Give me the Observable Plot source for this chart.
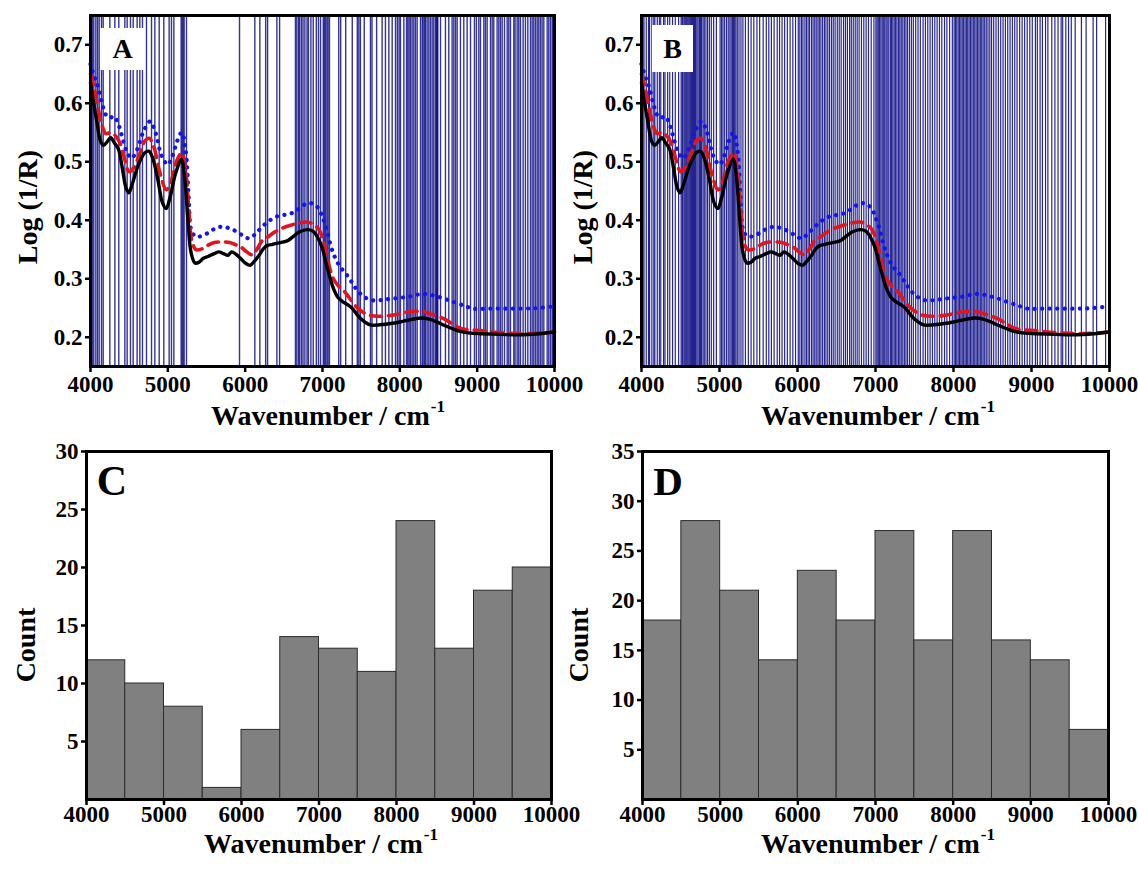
<!DOCTYPE html>
<html><head><meta charset="utf-8">
<script src="https://cdn.jsdelivr.net/npm/d3@7"></script>
<script src="https://cdn.jsdelivr.net/npm/@observablehq/plot@0.6"></script>
<style>
body{margin:0;background:#fff;}
#fig{position:relative;width:1138px;height:870px;overflow:hidden;font-family:"Liberation Serif",serif;font-weight:bold;color:#000;background:#fff;}
#fig svg text{font-family:"Liberation Serif",serif !important;font-weight:bold !important;font-size:23px !important;}
.t{position:absolute;white-space:nowrap;font-size:28px;line-height:0.85;}
.t .sup{font-size:17px;position:relative;top:-13px;margin-left:1px;}
.yl{transform:translate(-50%,-50%) rotate(-90deg);}
.xl{transform:translate(-50%,0);}
.lab{position:absolute;display:flex;align-items:center;justify-content:center;background:#fff;line-height:1;}
.big{position:absolute;line-height:1;transform:translate(-50%,-50%);}
</style>
</head><body><div id="fig"></div>
<script>
// ---------- data ----------
const xTicks = [4000, 5000, 6000, 7000, 8000, 9000, 10000];
const yTicksSpec = [0.2, 0.3, 0.4, 0.5, 0.6, 0.7];
const yTicksC = [5, 10, 15, 20, 25, 30];
const yTicksD = [5, 10, 15, 20, 25, 30, 35];

const blackWn = [4000,4040,4080,4130,4170,4220,4260,4310,4360,4410,4460,4495,4540,4620,4700,4754,4800,4870,4930,4978,5030,5100,5177,5220,5260,5300,5350,5400,5460,5520,5600,5660,5720,5778,5826,5880,5946,6010,6065,6120,6185,6240,6290,6360,6424,6500,6560,6620,6700,6806,6880,6940,6998,7040,7080,7142,7200,7260,7320,7381,7440,7500,7560,7620,7720,7860,8000,8100,8267,8380,8481,8580,8673,8780,8911,9055,9300,9534,9800,10000];
const blackLog = [0.635,0.600,0.570,0.535,0.528,0.535,0.541,0.532,0.522,0.490,0.455,0.447,0.462,0.495,0.515,0.518,0.508,0.470,0.430,0.420,0.440,0.480,0.504,0.470,0.400,0.345,0.327,0.328,0.335,0.338,0.343,0.346,0.343,0.340,0.346,0.342,0.334,0.326,0.323,0.330,0.341,0.352,0.357,0.359,0.361,0.363,0.366,0.372,0.380,0.384,0.381,0.370,0.352,0.330,0.310,0.283,0.268,0.261,0.256,0.250,0.240,0.231,0.225,0.221,0.221,0.223,0.226,0.229,0.233,0.231,0.226,0.220,0.215,0.210,0.207,0.206,0.205,0.204,0.206,0.209];

const redWn = [4000,4050,4100,4150,4200,4260,4320,4380,4440,4500,4560,4640,4700,4760,4820,4900,4980,5040,5110,5180,5230,5270,5310,5360,5420,5500,5600,5700,5800,5880,5946,6020,6090,6150,6220,6280,6360,6470,6600,6720,6806,6880,6950,7000,7040,7090,7140,7210,7285,7360,7430,7520,7620,7750,7860,8000,8100,8290,8420,8580,8700,8815,9000,9200,9400,9600,9800,10000];
const redLog = [0.650,0.625,0.590,0.562,0.548,0.550,0.545,0.532,0.505,0.483,0.490,0.515,0.535,0.540,0.525,0.480,0.452,0.465,0.500,0.515,0.485,0.420,0.365,0.350,0.350,0.356,0.362,0.363,0.362,0.358,0.354,0.346,0.341,0.350,0.365,0.370,0.378,0.386,0.392,0.396,0.397,0.393,0.385,0.370,0.350,0.320,0.300,0.287,0.278,0.265,0.253,0.243,0.237,0.236,0.237,0.240,0.243,0.244,0.239,0.231,0.221,0.214,0.212,0.209,0.207,0.206,0.207,0.209];

const blueWn = [4000,4050,4100,4150,4200,4250,4300,4350,4400,4460,4530,4600,4680,4770,4840,4920,5000,5060,5120,5180,5230,5270,5300,5350,5400,5500,5600,5700,5800,5900,5980,6050,6120,6200,6300,6400,6500,6600,6700,6800,6880,6950,7000,7050,7100,7150,7220,7300,7380,7450,7550,7650,7780,7900,8100,8300,8500,8700,8850,8950,9200,9600,9800,10000];
const blueLog = [0.667,0.645,0.627,0.600,0.580,0.575,0.578,0.568,0.547,0.520,0.506,0.520,0.550,0.569,0.550,0.510,0.495,0.510,0.535,0.550,0.520,0.440,0.385,0.373,0.372,0.377,0.385,0.389,0.386,0.380,0.373,0.369,0.375,0.386,0.398,0.406,0.409,0.412,0.420,0.429,0.428,0.420,0.405,0.386,0.360,0.340,0.322,0.309,0.294,0.280,0.268,0.263,0.264,0.266,0.269,0.274,0.269,0.260,0.253,0.249,0.249,0.249,0.250,0.253];

// selected wavenumbers (vertical lines)
const selectedA = [4026,4043,4069,4091,4112,4142,4164,4250,4315,4366,4444,4474,
  4517,4552,4603,4638,4672,4724,4789,4832,4888,4948,
  5017,5047,5078,5172,5185,5198,5211,5241,
  5927,
  6125,6190,6265,6290,6410,6445,
  6650,6668,6690,6705,6728,6748,6772,6800,6818,6850,6880,6920,6948,6975,
  7010,7025,7040,7058,7072,7090,7210,7235,7300,7385,7450,7470,7490,
  7540,7620,7640,7700,7771,7814,7858,7901,7944,7968,7990,
  8008,8052,8086,8103,8120,8138,8159,8181,8202,8224,8267,8289,8301,8319,8332,8353,8375,8396,8418,8439,8461,8474,8483,8491,
  8526,8590,8633,8676,8698,8720,8741,8784,8827,8870,8914,8965,8990,
  9021,9043,9086,9107,9129,9172,9194,9215,9258,9280,9301,9323,9353,9388,9409,9431,9474,9490,
  9517,9538,9560,9594,9624,9655,9689,9711,9732,9754,9776,9797,9819,9840,9862,9905,9926,9948,9970,9982];
const selectedB = [4018,4032,4061,4090,4104,4133,4158,4171,4202,4229,4247,4283,4301,4335,4362,4398,4433,4476,
  4508,4522,4531,4547,4560,4573,4585,4598,4612,4626,4640,4655,4668,4681,4694,4710,4725,4742,4756,4770,4789,4805,4826,4847,4870,4895,4925,4960,
  5008,5027,5045,5066,5090,5112,5133,5150,5168,5181,5195,5210,5228,5250,5275,5300,5332,5370,5405,5440,5480,
  5515,5560,5600,5632,5665,5700,5740,5770,5802,5835,5870,5905,5940,5975,
  6010,6030,6052,6070,6095,6115,6136,6155,6180,6200,6221,6240,6262,6280,6300,6322,6345,6365,6388,6410,6435,6458,6482,
  6510,6535,6560,6590,6615,6640,6668,6690,6715,6740,6765,6790,6820,6850,6880,6910,6945,6980,
  7005,7020,7035,7050,7068,7085,7100,7118,7135,7150,7170,7190,7205,7222,7240,7258,7275,7295,7312,7330,7350,7370,7390,7410,7435,7460,7485,
  7515,7545,7575,7610,7640,7670,7700,7730,7760,7790,7820,7850,7885,7915,7950,7985,
  8008,8025,8042,8060,8078,8095,8112,8130,8148,8165,8182,8200,8218,8236,8254,8272,8290,8308,8326,8344,8362,8380,8400,8420,8442,8465,8488,
  8515,8545,8575,8605,8635,8665,8695,8725,8755,8785,8815,8848,8880,8912,8945,8978,
  9010,9050,9075,9110,9140,9180,9210,9260,9300,9340,9380,9400,9440,9475,
  9510,9560,9640,9700,9790,9835,9950];

const binStarts = [4000,4500,5000,5500,6000,6500,7000,7500,8000,8500,9000,9500];
const binWidth = 500;
const countsC = [12,10,8,1,6,14,13,11,24,13,18,20];
const countsD = [18,28,21,14,23,18,27,16,27,16,14,7];

// ---------- helpers ----------
const fig = document.getElementById("fig");
const svgStyle = {fontFamily: "Liberation Serif, serif", fontSize: "23px", fontWeight: "bold", background: "transparent", overflow: "visible", color: "#000"};
const fmtX = d3.format("d");
const pts = (xs, ys) => xs.map((x, i) => ({x, y: ys[i]}));

function place(node, left, top) {
  node.style.position = "absolute";
  node.style.left = left + "px";
  node.style.top = top + "px";
  fig.appendChild(node);
}

const textOpts = {fontFamily: "Liberation Serif", fontWeight: "bold", fontSize: 23};

function spectrumPanel(sel, ml, mr, lw, op) {
  return Plot.plot({
    width: 580, height: 440,
    marginLeft: ml, marginRight: mr, marginTop: 15, marginBottom: 74,
    style: svgStyle,
    x: {domain: [4000, 10000]},
    y: {domain: [0.15, 0.75]},
    marks: [
      Plot.ruleX(sel, {stroke: "#000080", strokeOpacity: op, strokeWidth: lw}),
      Plot.line(pts(blueWn, blueLog), {x: "x", y: "y", stroke: "#1414f0", strokeWidth: 4.2, strokeDasharray: "0.1,7.4", strokeLinecap: "round", curve: "catmull-rom"}),
      Plot.line(pts(redWn, redLog), {x: "x", y: "y", stroke: "#e3141c", strokeWidth: 3.6, strokeDasharray: "11,7", curve: "catmull-rom"}),
      Plot.line(pts(blackWn, blackLog), {x: "x", y: "y", stroke: "#000", strokeWidth: 3.4, curve: "catmull-rom"}),
      Plot.axisX({ticks: xTicks, tickFormat: fmtX, tickSize: 6, tickPadding: 3, strokeWidth: 2.5, label: null, ...textOpts}),
      Plot.axisY({ticks: yTicksSpec, tickFormat: d3.format(".1f"), tickSize: 5, tickPadding: 3, strokeWidth: 2.5, label: null, ...textOpts}),
      Plot.frame({stroke: "#000", strokeWidth: 3})
    ]
  });
}

function histPanel(counts, ymax, yticks, ml, mr) {
  const rows = binStarts.map((b, i) => ({x1: b, x2: b + binWidth, count: counts[i]}));
  return Plot.plot({
    width: 580, height: 440,
    marginLeft: ml, marginRight: mr, marginTop: 21, marginBottom: 71,
    style: svgStyle,
    x: {domain: [4000, 10000]},
    y: {domain: [0, ymax]},
    marks: [
      Plot.rectY(rows, {x1: "x1", x2: "x2", y: "count", fill: "#808080", stroke: "#2b2b2b", strokeWidth: 1}),
      Plot.axisX({ticks: xTicks, tickFormat: fmtX, tickSize: 6, tickPadding: 0, strokeWidth: 2.5, label: null, ...textOpts}),
      Plot.axisY({ticks: yticks, tickFormat: fmtX, tickSize: 5, tickPadding: 3, strokeWidth: 2.5, label: null, ...textOpts}),
      Plot.frame({stroke: "#000", strokeWidth: 3})
    ]
  });
}

place(spectrumPanel(selectedA, 90, 26, 1.4, 0.8), 0, 0);
place(spectrumPanel(selectedB, 81, 31, 1.2, 0.85), 560, 0);
place(histPanel(countsC, 30, yTicksC, 86, 29), 0, 430);
place(histPanel(countsD, 35, yTicksD, 82, 32), 560, 430);

// ---------- text ----------
function addText(html, cls, left, top) {
  const d = document.createElement("div");
  d.className = "t " + cls;
  d.innerHTML = html;
  d.style.left = left + "px";
  d.style.top = top + "px";
  fig.appendChild(d);
  return d;
}
const xTitle = 'Wavenumber / cm<span class="sup">-1</span>';
addText(xTitle, "xl", 328, 404);
addText(xTitle, "xl", 878, 404);
addText(xTitle, "xl", 321, 832);
addText(xTitle, "xl", 878, 832);
addText("Log (1/R)", "yl", 28, 207);
addText("Log (1/R)", "yl", 583, 207);
addText("Count", "yl", 26, 645);
addText("Count", "yl", 579, 645);

function addLabel(txt, left, top, w, h, size) {
  const d = document.createElement("div");
  d.className = "lab";
  d.textContent = txt;
  Object.assign(d.style, {left: left + "px", top: top + "px", width: w + "px", height: h + "px", fontSize: size + "px"});
  fig.appendChild(d);
}
addLabel("A", 100, 28, 45, 42, 28);
addLabel("B", 652, 25, 41, 47, 28);
function addBig(txt, cx, cy, size) {
  const d = document.createElement("div");
  d.className = "big";
  d.textContent = txt;
  Object.assign(d.style, {left: cx + "px", top: cy + "px", fontSize: size + "px"});
  fig.appendChild(d);
}
addBig("C", 112, 481, 42);
addBig("D", 668, 481, 41);
</script>
</body></html>
